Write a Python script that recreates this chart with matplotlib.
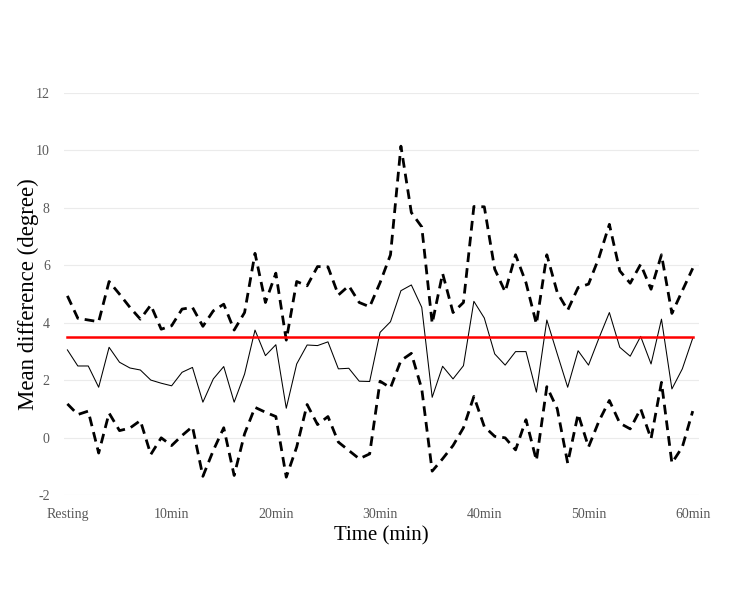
import numpy as np
import matplotlib
matplotlib.use("Agg")
import matplotlib.pyplot as plt

# minutes from resting (0) to 60
minutes = np.arange(61)

upper = [4.94, 4.16, 4.10, 4.04, 5.44, 5.00, 4.54, 4.13, 4.62, 3.78,
         3.90, 4.48, 4.54, 3.88, 4.42, 4.65, 3.75, 4.36, 6.42, 4.71,
         5.73, 3.40, 5.44, 5.29, 5.96, 5.95, 4.97, 5.29, 4.71, 4.56,
         5.40, 6.37, 10.15, 7.84, 7.34, 3.98, 5.72, 4.36, 4.71, 8.05,
         8.04, 5.87, 5.08, 6.37, 5.40, 3.96, 6.37, 5.06, 4.44, 5.23,
         5.35, 6.27, 7.43, 5.81, 5.38, 6.04, 5.17, 6.37, 4.33, 5.12, 5.90]

mean = [3.06, 2.50, 2.50, 1.76, 3.15, 2.63, 2.43, 2.36, 2.01, 1.90,
        1.81, 2.28, 2.45, 1.24, 2.05, 2.48, 1.24, 2.22, 3.75, 2.86,
        3.24, 1.03, 2.57, 3.23, 3.21, 3.34, 2.40, 2.42, 1.97, 1.96,
        3.67, 4.04, 5.12, 5.32, 4.54, 1.41, 2.49, 2.05, 2.51, 4.75,
        4.17, 2.92, 2.53, 3.00, 3.00, 1.59, 4.10, 2.92, 1.76, 3.03,
        2.53, 3.47, 4.36, 3.15, 2.84, 3.53, 2.57, 4.13, 1.70, 2.40, 3.47]

lower = [1.18, 0.81, 0.93, -0.53, 0.86, 0.25, 0.34, 0.60, -0.58, 0.00,
         -0.27, 0.08, 0.39, -1.34, -0.44, 0.35, -1.31, 0.14, 1.06, 0.89,
         0.74, -1.37, -0.32, 1.16, 0.46, 0.74, -0.15, -0.44, -0.73, -0.56,
         1.97, 1.74, 2.69, 2.94, 1.70, -1.16, -0.73, -0.27, 0.35, 1.44,
         0.39, 0.05, 0.00, -0.42, 0.63, -0.79, 1.78, 1.01, -0.88, 0.83,
         -0.32, 0.58, 1.30, 0.51, 0.31, 1.01, -0.03, 1.93, -0.88, -0.32, 0.93]

threshold = 3.5

xtick_pos = [0, 10, 20, 30, 40, 50, 60]
xtick_labels = ["Resting", "10min", "20min", "30min", "40min", "50min", "60min"]
ytick_pos = [-2, 0, 2, 4, 6, 8, 10, 12]

plt.rcParams['font.family'] = ['Liberation Serif', 'DejaVu Serif']

fig = plt.figure(figsize=(7.5, 6.04), dpi=100)
ax = fig.add_axes([0.085, 0.180, 0.847, 0.666])

ax.plot(minutes, upper, color="black", lw=2.0, linestyle=(0, (3.5, 2.2)))
ax.plot(minutes, lower, color="black", lw=2.0, linestyle=(0, (3.5, 2.2)))
ax.plot(minutes, mean, color="black", lw=0.75)
ax.plot([minutes[0], minutes[-1]], [threshold, threshold], color="#ff0000", lw=1.8)

ax.set_xlim(-0.35, 60.6)
ax.set_ylim(-2, 12)
ax.set_yticks(ytick_pos)
ax.set_yticklabels([str(v) for v in ytick_pos])
ax.set_xticks(xtick_pos)
ax.set_xticklabels(xtick_labels)

ax.yaxis.grid(True, color="#ebebeb", lw=0.8)
ax.set_axisbelow(True)
for s in ax.spines.values():
    s.set_visible(False)
ax.tick_params(axis="both", length=0, labelsize=10, colors="#595959")
ax.tick_params(axis="y", pad=10)
ax.tick_params(axis="x", pad=9)

ax.set_xlabel("Time (min)", fontsize=15, color="black")
ax.set_ylabel("Mean difference (degree)", fontsize=16.5, color="black")
ax.xaxis.set_label_coords(0.5, -0.078)
ax.yaxis.set_label_coords(-0.039, 0.5)

fig.savefig("out.png", dpi=100)
